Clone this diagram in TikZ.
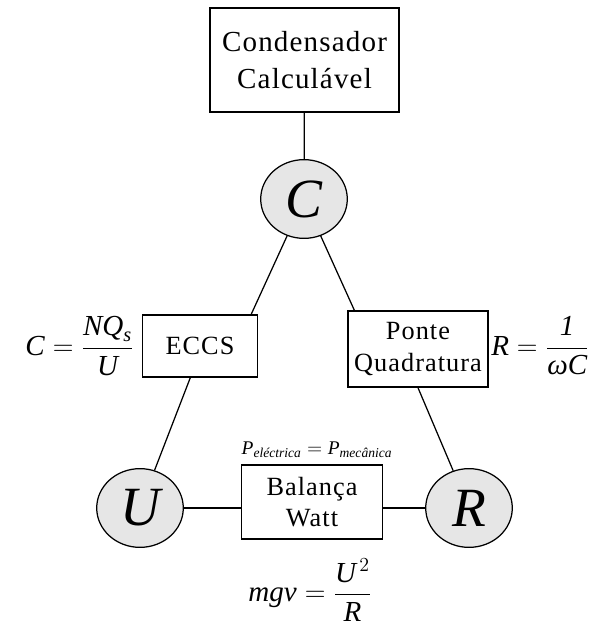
\documentclass[tikz,border=0pt]{standalone}
\usepackage{amsmath}
\usepackage{fontspec}
\setmainfont{Liberation Serif}
\newfontfamily\cajafont[LetterSpace=4]{Liberation Serif}
\usetikzlibrary{shapes.geometric, positioning, calc}
\definecolor{grisclaro}{HTML}{E6E6E6}
\newcommand{\vi}[1]{\textit{#1}}
\tikzset{
  caja/.style={draw, line width=1.1pt, inner sep=0pt, align=center,
              font=\cajafont\fontsize{19}{23}\selectfont},
  magn/.style={draw, ellipse, line width=0.9pt, fill=grisclaro, inner sep=0pt,
              minimum width=2.2cm, minimum height=2.0cm,
              font=\fontsize{40}{44}\selectfont\itshape},
  formula/.style={font=\fontsize{21}{25}\selectfont, inner sep=0pt},
  enlace/.style={line width=0.9pt},
}
\begin{document}
\begin{tikzpicture}[x=0.0254cm, y=-0.0254cm]
  \useasboundingbox (0,0) rectangle (591,633);
  \node[caja, minimum width=4.8cm, minimum height=2.64cm, font=\cajafont\fontsize{21}{27}\selectfont] (cond) at (304.5,60) {Condensador\\Calculável};
  \node[magn] (C) at (304,199) {C};
  \node[magn] (U) at (140,508) {U};
  \node[magn] (R) at (469,508) {R};
  \node[caja, minimum width=2.92cm, minimum height=1.57cm] (eccs) at (200,346) {ECCS};
  \node[caja, minimum width=3.56cm, minimum height=1.93cm] (ponte) at (418,349) {Ponte\\Quadratura};
  \node[caja, minimum width=3.58cm, minimum height=1.88cm] (watt) at (312,502) {Balança\\Watt};
  \node[formula, anchor=east] (fc) at (134,346) {$\vi{C}=\dfrac{\vi{NQ}_{\vi{s}}}{\vi{U}}$};
  \node[formula, anchor=west] (fr) at (491,346) {$\vi{R}=\dfrac{\vi{1}}{\vi{ωC}}$};
  \node[formula] (fu) at (310,590) {$\vi{mgv}=\dfrac{\vi{U}^{\,2}}{\vi{R}}$};
  \node[font=\fontsize{14}{17}\selectfont, inner sep=0pt] (fp) at (317,450) {$\vi{P}_{\vi{eléctrica}}=\vi{P}_{\vi{mecânica}}$};
  \draw[enlace] (cond) -- (C);
  \draw[enlace] (C) -- ([xshift=37]eccs.north);
  \draw[enlace] ([xshift=-7]eccs.south) -- (U);
  \draw[enlace] (C) -- ([xshift=-46]ponte.north);
  \draw[enlace] (ponte.south) -- (R);
  \draw[enlace] (U) -- (U -| watt.west);
  \draw[enlace] (R) -- (R -| watt.east);
\end{tikzpicture}
\end{document}
